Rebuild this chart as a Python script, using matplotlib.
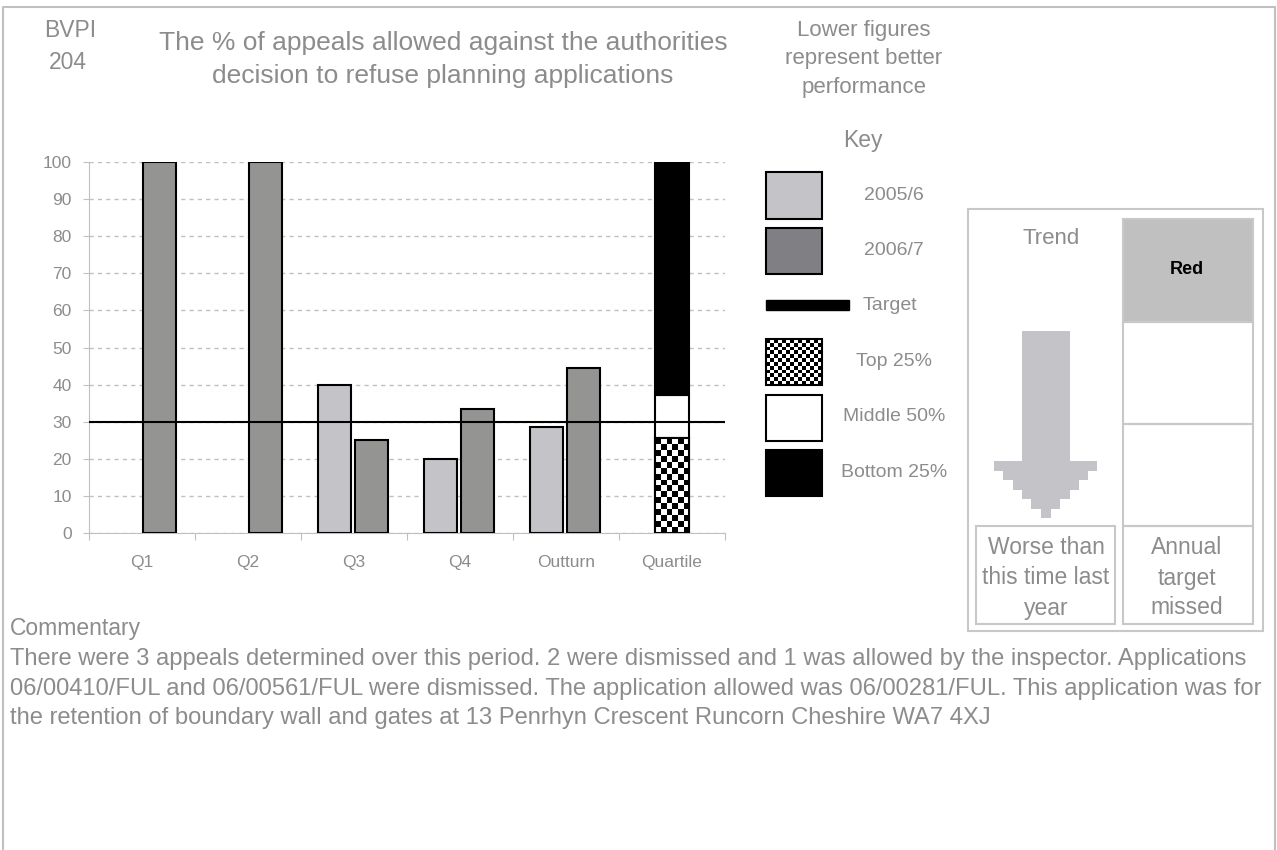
import numpy as np
import matplotlib.pyplot as plt
from matplotlib.patches import Rectangle, Polygon

plt.rcParams['font.family'] = ['Liberation Sans', 'DejaVu Sans']

# dados
categories = ['Q1', 'Q2', 'Q3', 'Q4', 'Outturn', 'Quartile']
year_prev = [np.nan, np.nan, 40.0, 20.0, 28.6]   # 2005/6
year_curr = [100.0, 100.0, 25.0, 33.3, 44.4]     # 2006/7
series_labels = ['2005/6', '2006/7']
target = 30.0
quartile_edges = [25.6, 37.2, 100.0]
quartile_labels = ['Top 25%', 'Middle 50%', 'Bottom 25%']

title_lines = ['The % of appeals allowed against the authorities',
               'decision to refuse planning applications']
note_lines = ['Lower figures', 'represent better', 'performance']
commentary = [
    'There were 3 appeals determined over this period. 2 were dismissed and 1 was allowed by the inspector. Applications',
    '06/00410/FUL and 06/00561/FUL were dismissed. The application allowed was 06/00281/FUL. This application was for',
    'the retention of boundary wall and gates at 13 Penrhyn Crescent Runcorn Cheshire WA7 4XJ',
]

TXT = '#8c8c8c'
LIGHT = '#c4c3c8'
DARK = '#949593'
DARK_KEY = '#807f83'
FRAME = '#c8c8c8'

W, H = 1277, 850
fig = plt.figure(figsize=(W / 100, H / 100), dpi=100)

# eixo de fundo em pixels para textos e caixas
bg = fig.add_axes([0, 0, 1, 1])
bg.axis('off')


def box(x0, y0, x1, y1):
    return [x0 / W, 1 - y1 / H, (x1 - x0) / W, (y1 - y0) / H]


def checker(rows, cols):
    return (np.add.outer(np.arange(rows), np.arange(cols)) % 2).astype(float)


# Gráfico de barras
ax = fig.add_axes(box(89, 162, 725, 533))
x = np.arange(len(categories))
n = len(year_curr)
ax.bar(x[:n] - 0.18, year_prev, 0.31, color=LIGHT, edgecolor='black', linewidth=1.5, zorder=3)
ax.bar(x[:n] + 0.165, year_curr, 0.31, color=DARK, edgecolor='black', linewidth=1.5, zorder=3)

q = x[-1]
bottoms = [0] + quartile_edges[:-1]
heights = np.diff([0] + quartile_edges)
qbars = ax.bar([q] * 3, heights, 0.33, bottom=bottoms, color=['black', 'white', 'black'],
               edgecolor='black', linewidth=1.5, zorder=3)
# quadriculado do quartil superior
ppu = (533 - 162) / 100.0
rows = int(round(quartile_edges[0] * ppu / 6))
im = ax.imshow(checker(rows, 6), cmap='gray', aspect='auto', interpolation='nearest',
               extent=(q - 0.165, q + 0.165, 0, quartile_edges[0]), zorder=3.5)
im.set_clip_path(qbars[0])
ax.bar(q, quartile_edges[0], 0.33, fill=False, edgecolor='black', linewidth=1.5, zorder=4)

ax.axhline(target, color='black', linewidth=1.5, zorder=5)

ax.set_xlim(-0.5, 5.5)
ax.set_ylim(0, 100)
ax.set_yticks(range(0, 101, 10))
ax.yaxis.grid(True, color='#c0c0c0', linestyle=(0, (3, 3)), linewidth=1)
ax.set_axisbelow(True)
for s in ['top', 'right']:
    ax.spines[s].set_visible(False)
for s in ['left', 'bottom']:
    ax.spines[s].set_color('#c0c0c0')
ax.set_xticks(np.arange(-0.5, 6, 1))
ax.tick_params(axis='x', which='major', length=5, color='#c0c0c0', labelbottom=False)
ax.set_xticks(x, minor=True)
ax.set_xticklabels(categories, minor=True)
ax.tick_params(axis='x', which='minor', length=0, pad=16, labelsize=12.5, labelcolor=TXT)
ax.tick_params(axis='y', length=4.5, color='#c0c0c0', pad=8, labelsize=12.5, labelcolor=TXT)

# Títulos
bg.text(70, 30, 'BVPI', ha='center', va='center', fontsize=16.5, color=TXT)
bg.text(68, 62, '204', ha='center', va='center', fontsize=16.5, color=TXT)
for i, t in enumerate(title_lines):
    bg.text(443, 43 + 33 * i, t, ha='center', va='center', fontsize=19, color=TXT)
for i, t in enumerate(note_lines):
    bg.text(864, 30 + 28.5 * i, t, ha='center', va='center', fontsize=16, color=TXT)
bg.text(863, 140, 'Key', ha='center', va='center', fontsize=16.5, color=TXT)

# Legenda
bg.add_patch(Rectangle((766, 172), 56, 47, fc=LIGHT, ec='black', lw=1.5))
bg.add_patch(Rectangle((766, 228), 56, 46, fc=DARK_KEY, ec='black', lw=1.5))
bg.add_patch(Rectangle((766, 300), 83, 10, fc='black', ec='black', lw=1))
bg.imshow(checker(12, 14), cmap='gray', aspect='auto', interpolation='nearest',
          extent=(766, 822, 385, 339))
bg.add_patch(Rectangle((766, 339), 56, 46, fill=False, ec='black', lw=1.5))
bg.add_patch(Rectangle((766, 395), 56, 46, fc='white', ec='black', lw=1.5))
bg.add_patch(Rectangle((766, 450), 56, 46, fc='black', ec='black', lw=1.5))
bg.text(894, 195, series_labels[0], ha='center', va='center', fontsize=14, color=TXT)
bg.text(894, 250, series_labels[1], ha='center', va='center', fontsize=14, color=TXT)
bg.text(863, 305, 'Target', ha='left', va='center', fontsize=14, color=TXT)
for i, t in enumerate(quartile_labels):
    bg.text(894, 361 + 55.5 * i, t, ha='center', va='center', fontsize=14, color=TXT)

# Painel de tendência
bg.add_patch(Rectangle((968, 209), 295, 422, fill=False, ec=FRAME, lw=1.5))
bg.add_patch(Rectangle((1123, 219), 130, 103, fc='#c0c0c0', ec=FRAME, lw=1.5))
bg.add_patch(Rectangle((1123, 322), 130, 102, fill=False, ec=FRAME, lw=1.5))
bg.add_patch(Rectangle((1123, 424), 130, 102, fill=False, ec=FRAME, lw=1.5))
bg.add_patch(Rectangle((976, 526), 139, 98, fill=False, ec=FRAME, lw=1.5))
bg.add_patch(Rectangle((1123, 526), 130, 98, fill=False, ec=FRAME, lw=1.5))
arrow = [(1022, 331), (1070, 331), (1070, 461), (1097, 461), (1097, 471), (1088, 471),
         (1088, 480), (1079, 480), (1079, 490), (1070, 490), (1070, 499), (1060, 499),
         (1060, 509), (1051, 509), (1051, 518), (1041, 518), (1041, 509), (1031, 509),
         (1031, 499), (1022, 499), (1022, 490), (1013, 490), (1013, 480), (1003, 480),
         (1003, 471), (994, 471), (994, 461), (1022, 461)]
bg.add_patch(Polygon(arrow, closed=True, fc=LIGHT, ec='none'))
bg.text(1051, 238, 'Trend', ha='center', va='center', fontsize=16, color=TXT)
bg.text(1187, 269, 'Red', ha='center', va='center', fontsize=13, color='black', weight='bold')
for i, t in enumerate(['Worse than', 'this time last', 'year']):
    bg.text(1046, 548 + 30 * i, t, ha='center', va='center', fontsize=16.5, color=TXT)
for i, t in enumerate(['Annual', 'target', 'missed']):
    bg.text(1187, 548 + 30 * i, t, ha='center', va='center', fontsize=16.5, color=TXT)

# Comentário
bg.text(10, 628, 'Commentary', ha='left', va='center', fontsize=16.5, color=TXT)
for i, t in enumerate(commentary):
    bg.text(10, 659 + 29.5 * i, t, ha='left', va='center', fontsize=17.1, color=TXT)

# moldura
bg.plot([3, 3, 1275, 1275], [850, 7, 7, 850], color='#c0c0c0', lw=1.5)

bg.set_xlim(0, W)
bg.set_ylim(H, 0)

fig.savefig('out.png', dpi=100)
